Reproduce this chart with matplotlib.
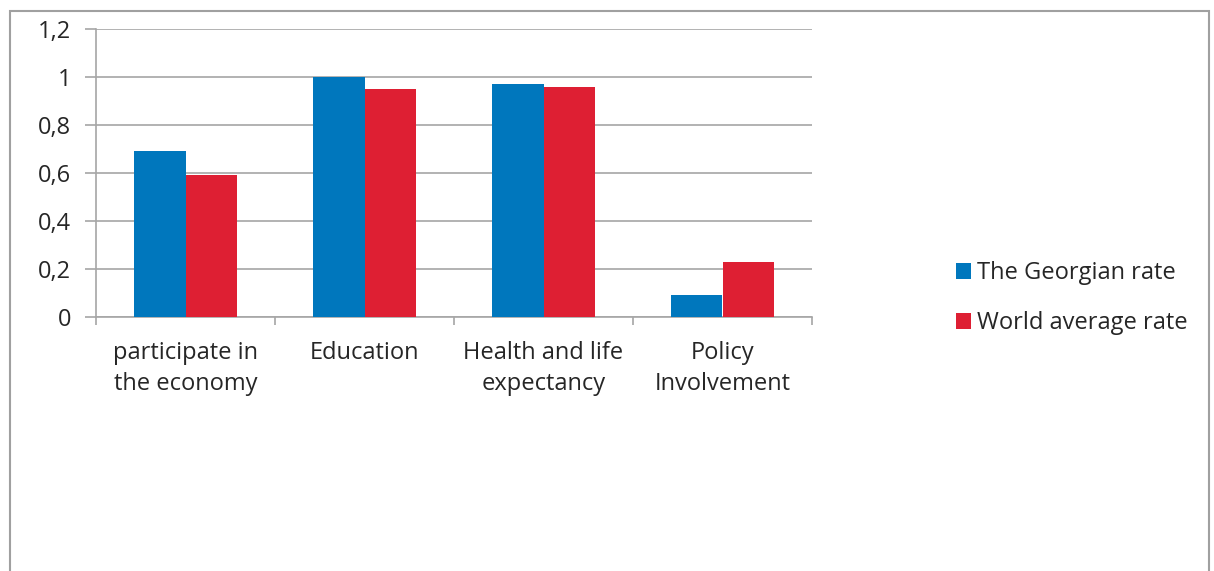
import matplotlib
matplotlib.use("Agg")
import matplotlib.pyplot as plt
import matplotlib.patches as mpatches
import numpy as np

# Data
categories = ["participate in\nthe economy", "Education",
              "Health and life\nexpectancy", "Policy\nInvolvement"]
georgian_rate = [0.69, 1.00, 0.97, 0.09]
world_average_rate = [0.59, 0.95, 0.96, 0.23]
series_names = ["The Georgian rate", "World average rate"]
y_ticks = [0, 0.2, 0.4, 0.6, 0.8, 1.0, 1.2]
y_tick_labels = ["0", "0,2", "0,4", "0,6", "0,8", "1", "1,2"]

BLUE = "#0077BD"
RED = "#DE1F33"
GRID = "#A6A6A6"
TEXT = "#262626"
FS = 17

plt.rcParams["font.family"] = ["Open Sans", "DejaVu Sans"]

W, H, DPI = 1214, 571, 100
fig = plt.figure(figsize=(W / DPI, H / DPI), dpi=DPI)

# outer chart frame (runs past the lower edge)
fig.patches.append(mpatches.Rectangle((9.5 / W, -0.1), (1209 - 9.5) / W, 1.1 - 11.5 / H,
                                      transform=fig.transFigure, fill=False,
                                      edgecolor="#A0A0A0", linewidth=1.5))

ax = fig.add_axes([96 / W, (H - 317) / H, (812 - 96) / W, (317 - 29) / H])

x = np.arange(len(categories))
bw = 0.285
ax.bar(x - bw / 2, georgian_rate, bw, color=BLUE, label=series_names[0], zorder=3)
ax.bar(x + bw / 2, world_average_rate, bw, color=RED, label=series_names[1], zorder=3)

ax.set_xlim(-0.5, len(categories) - 0.5)
ax.set_ylim(0, 1.2)

ax.set_yticks(y_ticks)
ax.set_yticklabels(y_tick_labels)
ax.yaxis.grid(True, color=GRID, linewidth=1.2, zorder=0)
ax.tick_params(axis="y", length=8, width=1.2, color=GRID, pad=10,
               labelsize=FS, labelcolor=TEXT)

ax.set_xticks(x)
ax.set_xticklabels(categories, linespacing=1.42)
ax.set_xticks(np.arange(-0.5, len(categories)), minor=True)
ax.tick_params(axis="x", which="major", length=0, pad=17, labelsize=FS, labelcolor=TEXT)
ax.tick_params(axis="x", which="minor", length=6, width=1.2, color=GRID)

for side in ["top", "right"]:
    ax.spines[side].set_visible(False)
for side in ["left", "bottom"]:
    ax.spines[side].set_color(GRID)
    ax.spines[side].set_linewidth(1.2)

ax.legend(loc="center left", bbox_to_anchor=(956 / W, 1 - 298 / H),
          bbox_transform=fig.transFigure, frameon=False, fontsize=FS,
          handlelength=0.65, handleheight=0.65, handletextpad=0.25,
          labelspacing=1.1, labelcolor=TEXT, borderaxespad=0, borderpad=0)

fig.savefig("out.png", dpi=DPI)
